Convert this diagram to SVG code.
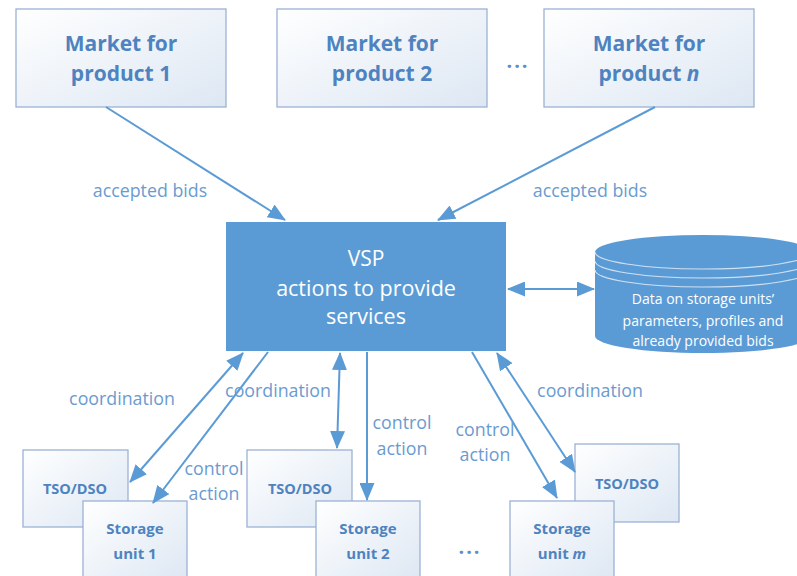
<svg xmlns="http://www.w3.org/2000/svg" width="797" height="576" viewBox="0 0 797 576">
<defs>
<linearGradient id="boxg" x1="0" y1="0" x2="1" y2="1">
<stop offset="0" stop-color="#ffffff"/>
<stop offset="1" stop-color="#dde7f3"/>
</linearGradient>
<marker id="ah" viewBox="0 0 18 15" refX="17" refY="7.5" markerWidth="18" markerHeight="15" markerUnits="userSpaceOnUse" orient="auto-start-reverse">
<path d="M0,0 L18,7.5 L0,15 Z" fill="#5b9bd5"/>
</marker>
<style>
.box{fill:url(#boxg);stroke:#9bb2d4;stroke-width:1.3}
.bt{font-family:"Open Sans","Liberation Sans",sans-serif;font-weight:bold;fill:#4e83c0;text-anchor:middle}
.mk{font-size:21px}
.sm{font-size:14.5px}
.lb{font-family:"Open Sans","Liberation Sans",sans-serif;font-size:17.8px;fill:#6a9bd0;text-anchor:middle}
.wt{font-family:"Open Sans","Liberation Sans",sans-serif;fill:#ffffff;text-anchor:middle}
.ar{fill:none;stroke:#5b9bd5;stroke-width:2}
.one{marker-end:url(#ah)}
.two{marker-start:url(#ah);marker-end:url(#ah)}
.dots{font-family:"Open Sans","Liberation Sans",sans-serif;font-size:20px;font-weight:bold;fill:#5b8fc8;text-anchor:middle;letter-spacing:2px}
</style>
</defs>
<rect width="797" height="576" fill="#ffffff"/>

<g id="market1"><rect class="box" x="16" y="9" width="210" height="98"/><text class="bt mk" x="121" y="51">Market for</text><text class="bt mk" x="121" y="81">product 1</text></g>
<g id="market2"><rect class="box" x="277" y="9" width="210" height="98"/><text class="bt mk" x="382" y="51">Market for</text><text class="bt mk" x="382" y="81">product 2</text></g>
<g id="marketn"><rect class="box" x="544" y="9" width="210" height="98"/><text class="bt mk" x="649" y="51">Market for</text><text class="bt mk" x="649" y="81">product <tspan font-style="italic">n</tspan></text></g>
<text class="dots" x="518" y="68">...</text>

<g id="vsp"><rect x="226" y="222" width="280" height="129" fill="#5b9bd5"/><text class="wt" font-size="21" x="366" y="266">VSP</text><text class="wt" font-size="21.5" x="366" y="296">actions to provide</text><text class="wt" font-size="21.5" x="366" y="324">services</text></g>

<g id="database">
<path d="M595,252 L595,336 A108,17 0 0 0 811,336 L811,252 A108,17 0 0 0 595,252 Z" fill="#5b9bd5"/>
<path d="M595,252 A108,17 0 0 0 811,252" fill="none" stroke="#cfe0f2" stroke-width="1.2"/>
<path d="M595,261 A108,17 0 0 0 811,261" fill="none" stroke="#cfe0f2" stroke-width="1.2"/>
<path d="M595,270 A108,17 0 0 0 811,270" fill="none" stroke="#cfe0f2" stroke-width="1.2"/>
<text class="wt" font-size="14" x="703" y="304">Data on storage units’</text>
<text class="wt" font-size="14" x="703" y="326">parameters, profiles and</text>
<text class="wt" font-size="14" x="703" y="346">already provided bids</text>
</g>

<g id="tso1"><rect class="box" x="23" y="450" width="105" height="77"/><text class="bt sm" x="75" y="494">TSO/DSO</text></g>
<g id="storage1"><rect class="box" x="83" y="501" width="104" height="80"/><text class="bt" font-size="15" x="135" y="534">Storage</text><text class="bt" font-size="15" x="135" y="559">unit 1</text></g>
<g id="tso2"><rect class="box" x="247" y="450" width="105" height="77"/><text class="bt sm" x="300" y="494">TSO/DSO</text></g>
<g id="storage2"><rect class="box" x="316" y="501" width="104" height="80"/><text class="bt" font-size="15" x="368" y="534">Storage</text><text class="bt" font-size="15" x="368" y="559">unit 2</text></g>
<g id="tso3"><rect class="box" x="575" y="444" width="104" height="78"/><text class="bt sm" x="627" y="489">TSO/DSO</text></g>
<g id="storagem"><rect class="box" x="510" y="501" width="104" height="80"/><text class="bt" font-size="15" x="562" y="534">Storage</text><text class="bt" font-size="15" x="562" y="559">unit <tspan font-style="italic">m</tspan></text></g>
<text class="dots" x="470" y="554">...</text>

<g id="connectors">
<line class="ar one" x1="106" y1="107" x2="285" y2="220"/>
<line class="ar one" x1="655" y1="107" x2="438" y2="220"/>
<line class="ar two" x1="508" y1="289" x2="594" y2="289"/>
<line class="ar two" x1="243" y1="353" x2="130" y2="482"/>
<line class="ar one" x1="268" y1="352" x2="153" y2="503"/>
<line class="ar two" x1="340" y1="353" x2="337" y2="448"/>
<line class="ar one" x1="367" y1="352" x2="367" y2="500"/>
<line class="ar one" x1="472" y1="352" x2="557" y2="498"/>
<line class="ar two" x1="497" y1="353" x2="575" y2="472"/>
</g>

<g id="labels">
<text class="lb" x="150" y="197">accepted bids</text>
<text class="lb" x="590" y="197">accepted bids</text>
<text class="lb" x="122" y="405">coordination</text>
<text class="lb" x="278" y="397">coordination</text>
<text class="lb" x="590" y="397">coordination</text>
<text class="lb" x="214" y="475">control</text>
<text class="lb" x="214" y="500">action</text>
<text class="lb" x="402" y="429">control</text>
<text class="lb" x="402" y="455">action</text>
<text class="lb" x="485" y="436">control</text>
<text class="lb" x="485" y="461">action</text>
</g>
</svg>
